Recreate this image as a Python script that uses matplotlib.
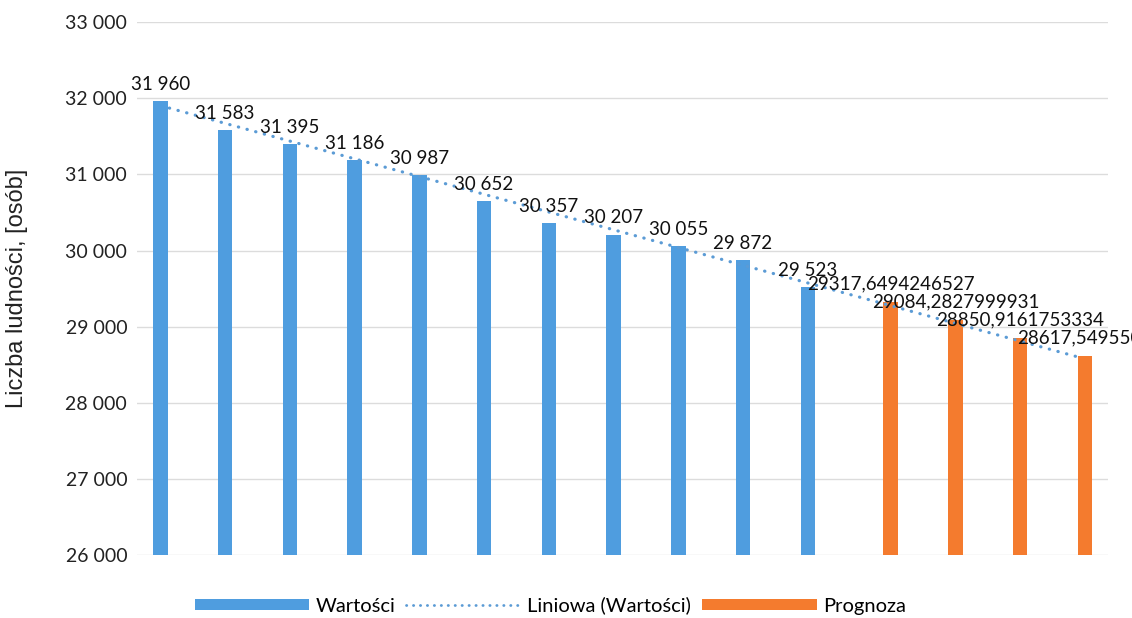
import numpy as np
import matplotlib.pyplot as plt
from matplotlib.patches import Patch
from matplotlib.lines import Line2D

# ── data ──────────────────────────────────────────────────────
values = [31960, 31583, 31395, 31186, 30987, 30652, 30357, 30207, 30055, 29872, 29523]
forecast = [29317.6494246527, 29084.2827999931, 28850.9161753334, 28617.5495500667]
# last label is cut at the right edge in the reference
forecast_labels = ["29317,6494246527", "29084,2827999931",
                   "28850,9161753334", "28617,5495500"]
y_ticks = [26000, 27000, 28000, 29000, 30000, 31000, 32000, 33000]

BLUE = "#4f9ddf"
ORANGE = "#f47b2e"
TREND = "#5b9bd5"
FONT = "Lato"


def fmt_space(v):
    return f"{v:,.0f}".replace(",", " ")


fig = plt.figure(figsize=(11.32, 6.18), dpi=100)
ax = fig.add_axes([0.121, 0.102, 0.858, 0.862])

n_hist = len(values)
n_all = n_hist + len(forecast)
x_hist = np.arange(n_hist)
x_fc = np.arange(n_hist, n_all)
off, w = 0.14, 0.224

ax.bar(x_hist - off, values, width=w, color=BLUE, zorder=3)
ax.bar(x_fc + off, forecast, width=w, color=ORANGE, zorder=3)

# linear trend of the historical series, extended over the forecast period
k, b = np.polyfit(x_hist, values, 1)
x_tr = np.arange(n_all)
ax.plot(x_tr, k * x_tr + b, color=TREND, lw=2.3,
        linestyle=(0, (0.1, 2.7)), dash_capstyle="round", zorder=4)

for xi, v in zip(x_hist, values):
    ax.annotate(fmt_space(v), (xi - off, v), xytext=(0, 6),
                textcoords="offset points", ha="center", va="bottom",
                fontsize=13.5, family=FONT, color="#111", zorder=5)
for xi, v, lab in zip(x_fc, forecast, forecast_labels):
    ax.annotate(lab, (xi + off, v), xytext=(0, 7),
                textcoords="offset points", ha="center", va="bottom",
                fontsize=13.5, family=FONT, color="#111", zorder=5,
                annotation_clip=False)

ax.set_xlim(-0.5, n_all - 0.5)
ax.set_ylim(26000, 33000)
ax.set_yticks(y_ticks)
ax.set_yticklabels([fmt_space(t) for t in y_ticks], family=FONT, fontsize=14,
                   color="#222")
ax.set_xticks([])
ax.tick_params(axis="y", length=0, pad=7)
ax.grid(axis="y", color="#dcdcdc", lw=1, zorder=0)
for s in ax.spines.values():
    s.set_visible(False)

ax.set_ylabel("Liczba ludności, [osób]", family="Liberation Sans",
              fontsize=17, color="#222")
ax.yaxis.set_label_coords(-0.112, 0.5)

handles = [Patch(facecolor=BLUE), Line2D([], [], color=TREND, lw=2,
           linestyle=(0, (0.1, 2.4)), dash_capstyle="round"),
           Patch(facecolor=ORANGE)]
fig.legend(handles, ["Wartości", "Liniowa (Wartości)", "Prognoza"],
           loc="center", bbox_to_anchor=(0.486, 0.02), ncol=3, frameon=False,
           prop={"family": FONT, "size": 14.5}, handlelength=5.7,
           handleheight=0.45, handletextpad=0.3, columnspacing=0.55)

fig.savefig("out.png", dpi=100)
